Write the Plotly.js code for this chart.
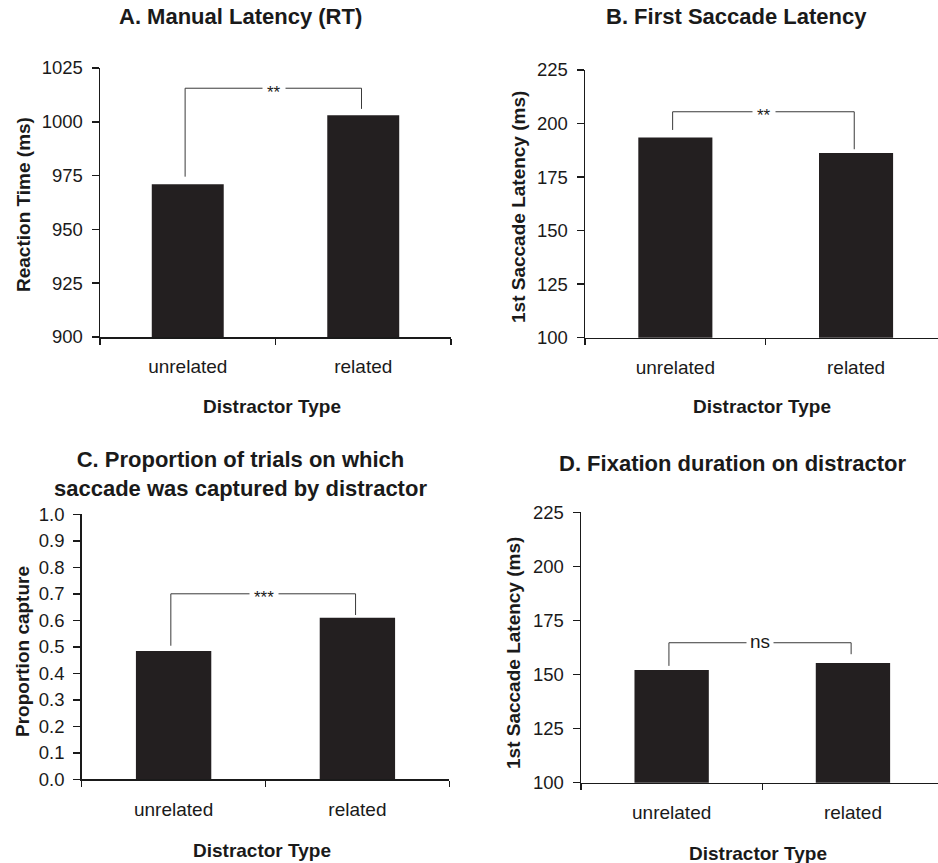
<!DOCTYPE html>
<html>
<head>
<meta charset="utf-8">
<script src="https://cdn.plot.ly/plotly-3.0.1.min.js"></script>
<style>
  html, body { margin: 0; padding: 0; background: #fff; }
  #chart { width: 938px; height: 863px; }
</style>
</head>
<body>
<div id="chart"></div>
<script>
// ---------- data ----------
const categories = ['unrelated', 'related'];
const manualRT = [971, 1003];              // A. Reaction time (ms)
const firstSaccadeLatency = [193.5, 186.2]; // B. 1st saccade latency (ms)
const captureProportion = [0.484, 0.61];    // C. Proportion capture
const fixationDuration = [152.1, 155.3];    // D. Fixation duration (ms)

// significance brackets (one entry per panel A-D)
const bracketTop = [1015.6, 205.5, 0.70, 164.7];
const bracketLeftEnd = [974.5, 197.0, 0.504, 154.0];
const bracketRightEnd = [1006.0, 188.0, 0.62, 159.4];
const sigLabels = ['**', '**', '***', 'ns'];

const panelTitles = [
  'A. Manual Latency (RT)',
  'B. First Saccade Latency',
  'C. Proportion of trials on which<br>saccade was captured by distractor',
  'D. Fixation duration on distractor'
];
const yTitles = ['Reaction Time (ms)', '1st Saccade Latency (ms)', 'Proportion capture', '1st Saccade Latency (ms)'];
const xTitle = 'Distractor Type';

const yRanges = [[900, 1025], [100, 225], [0, 1], [100, 225]];
const yDticks = [25, 25, 0.1, 25];
const yFormats = ['', '', '.1f', ''];

// ---------- layout helpers ----------
const W = 938, H = 863;
const px = v => v / W;
const py = v => 1 - v / H;

const panelValues = [manualRT, firstSaccadeLatency, captureProportion, fixationDuration];
// plot-area geometry in pixels [left, right, top, bottom]
const geom = [
  [100, 451, 68, 337],
  [585, 938, 70, 337.7],
  [81.7, 449.3, 514.3, 779.3],
  [581, 938, 512.3, 782.7]
];
const catWidthPx = [175.5, 180.7, 183.8, 181.3];

const barColor = '#231f20';
const axisColor = '#1a1a1a';
const fontFamily = 'Arial, "Liberation Sans", Helvetica, sans-serif';

const data = [];
const layout = {
  width: W, height: H,
  margin: {l: 0, r: 0, t: 0, b: 0},
  paper_bgcolor: '#ffffff',
  plot_bgcolor: 'rgba(0,0,0,0)',
  showlegend: false,
  font: {family: fontFamily, color: '#1a1a1a'},
  shapes: [],
  annotations: []
};

const titlePos = [[241, 17], [736, 17], [240, 474], [733, 463]];
const yTitlePos = [[23, 205], [519, 207], [22, 652], [513, 653]];
const xTitlePos = [[272, 407], [762, 407], [262, 850], [758, 853]];

for (let i = 0; i < 4; i++) {
  const n = i === 0 ? '' : String(i + 1);
  const xa = 'x' + n, ya = 'y' + n;
  const [l, r, t, b] = geom[i];
  const xmax = -0.5 + (r - l) / catWidthPx[i];

  data.push({
    type: 'bar',
    x: categories,
    y: panelValues[i],
    xaxis: xa, yaxis: ya,
    width: 0.41,
    marker: {color: barColor, line: {width: 0}},
    hoverinfo: 'x+y'
  });

  layout['xaxis' + n] = {
    domain: [px(l), px(r)],
    anchor: ya,
    type: 'category',
    range: [-0.5, xmax],
    tickson: 'boundaries',
    ticks: 'outside', ticklen: 6, tickwidth: 1.5, tickcolor: axisColor,
    showline: true, linecolor: axisColor, linewidth: 1.5,
    showgrid: false, zeroline: false,
    tickfont: {size: 19, color: '#1a1a1a', family: fontFamily},
    ticklabelstandoff: 12,
    fixedrange: true
  };
  layout['yaxis' + n] = {
    domain: [py(b), py(t)],
    anchor: xa,
    range: yRanges[i],
    tick0: yRanges[i][0], dtick: yDticks[i],
    tickformat: yFormats[i],
    ticks: 'outside', ticklen: 7, tickwidth: 1.5, tickcolor: axisColor,
    showline: true, linecolor: axisColor, linewidth: 1.5,
    showgrid: false, zeroline: false,
    tickfont: {size: 18.5, color: '#1a1a1a', family: fontFamily},
    ticklabelstandoff: 5,
    fixedrange: true
  };

  // significance bracket
  const lineStyle = {color: '#3a3a3a', width: 1};
  const xl = -0.015, xr = 0.99;
  layout.shapes.push(
    {type: 'line', xref: xa, yref: ya, x0: xl, x1: xl, y0: bracketLeftEnd[i], y1: bracketTop[i], line: lineStyle},
    {type: 'line', xref: xa, yref: ya, x0: xl, x1: xr, y0: bracketTop[i], y1: bracketTop[i], line: lineStyle},
    {type: 'line', xref: xa, yref: ya, x0: xr, x1: xr, y0: bracketRightEnd[i], y1: bracketTop[i], line: lineStyle}
  );
  const isStars = sigLabels[i] !== 'ns';
  layout.annotations.push({
    xref: xa, yref: ya, x: 0.49, y: bracketTop[i],
    text: sigLabels[i], showarrow: false,
    xanchor: 'center', yanchor: 'middle',
    yshift: isStars ? -4 : 1,
    bgcolor: '#ffffff', borderpad: isStars ? 4 : 3,
    font: {size: isStars ? 17 : 19, color: '#1a1a1a', family: fontFamily}
  });

  // panel title
  layout.annotations.push({
    xref: 'paper', yref: 'paper',
    x: px(titlePos[i][0]), y: py(titlePos[i][1]),
    xanchor: 'center', yanchor: 'middle',
    text: '<b>' + panelTitles[i] + '</b>', showarrow: false,
    font: {size: 22, color: '#1a1a1a', family: fontFamily}
  });
  // y-axis title
  layout.annotations.push({
    xref: 'paper', yref: 'paper',
    x: px(yTitlePos[i][0]), y: py(yTitlePos[i][1]),
    xanchor: 'center', yanchor: 'middle', textangle: -90,
    text: '<b>' + yTitles[i] + '</b>', showarrow: false,
    font: {size: 19, color: '#1a1a1a', family: fontFamily}
  });
  // x-axis title
  layout.annotations.push({
    xref: 'paper', yref: 'paper',
    x: px(xTitlePos[i][0]), y: py(xTitlePos[i][1]),
    xanchor: 'center', yanchor: 'middle',
    text: '<b>' + xTitle + '</b>', showarrow: false,
    font: {size: 19, color: '#1a1a1a', family: fontFamily}
  });
}

Plotly.newPlot('chart', data, layout, {displayModeBar: false, staticPlot: true});
</script>
</body>
</html>
